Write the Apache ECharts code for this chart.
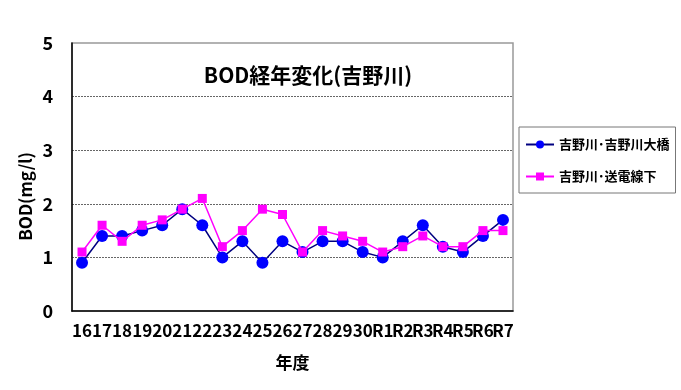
<!DOCTYPE html>
<html><head><meta charset="utf-8">
<script src="https://cdn.jsdelivr.net/npm/echarts@6/dist/echarts.min.js"></script>
<style>html,body{margin:0;padding:0;background:#fff}#c{width:681px;height:390px}</style>
</head><body><div id="c"></div>
<script>
const categories = ['16','17','18','19','20','21','22','23','24','25','26','27','28','29','30','R1','R2','R3','R4','R5','R6','R7'];
const seriesNames = ['吉野川･吉野川大橋','吉野川･送電線下'];
const ohashi = [0.9,1.4,1.4,1.5,1.6,1.9,1.6,1.0,1.3,0.9,1.3,1.1,1.3,1.3,1.1,1.0,1.3,1.6,1.2,1.1,1.4,1.7];
const sodensen = [1.1,1.6,1.3,1.6,1.7,1.9,2.1,1.2,1.5,1.9,1.8,1.1,1.5,1.4,1.3,1.1,1.2,1.4,1.2,1.2,1.5,1.5];
const yTicks = [0,1,2,3,4,5];
const titleText = 'BOD経年変化(吉野川)';
const yName = 'BOD(mg/l)';
const xName = '年度';

const FONT = '"Noto Sans CJK JP", "Noto Sans", sans-serif';
const chart = echarts.init(document.getElementById('c'), null, {renderer:'canvas'});
chart.setOption({
  animation:false,
  backgroundColor:'#fff',
  title:{text:titleText,left:303,top:60,textAlign:'center',textStyle:{fontFamily:FONT,fontWeight:'bold',fontSize:21,color:'#000'}},
  grid:{left:72,top:43,width:441,height:268,show:true,borderColor:'#999',borderWidth:1.5,backgroundColor:'transparent'},
  legend:{
    orient:'vertical',left:519,top:127,width:135,
    padding:[11,6,10,6],itemGap:19,itemWidth:28,itemHeight:10,
    borderColor:'#777',borderWidth:1,
    textStyle:{fontFamily:FONT,fontWeight:'bold',fontSize:13,color:'#000'},
    data:seriesNames
  },
  xAxis:{
    type:'category',data:categories,boundaryGap:true,
    name:xName,nameLocation:'middle',nameGap:43,
    nameTextStyle:{fontFamily:FONT,fontWeight:'bold',fontSize:17,color:'#000'},
    axisLine:{lineStyle:{color:'#000',width:1.5}},
    axisTick:{inside:true,length:4,lineStyle:{color:'#000'}},
    axisLabel:{interval:0,margin:11,fontFamily:FONT,fontWeight:'bold',fontSize:17,color:'#000'}
  },
  yAxis:{
    type:'value',min:0,max:5,interval:1,
    axisLine:{show:true,lineStyle:{color:'#000',width:1.5}},
    axisTick:{show:false},
    axisLabel:{margin:19,fontFamily:FONT,fontWeight:'bold',fontSize:18,color:'#000',
      formatter:v=>yTicks.includes(v)?String(v):''},
    splitLine:{show:true,showMinLine:false,showMaxLine:false,lineStyle:{color:'#666',type:[2,1],width:1}}
  },
  graphic:[{type:'text',left:17,top:152,rotation:Math.PI/2,
    style:{text:yName,font:'bold 17px '+FONT,fill:'#000'}}],
  series:[
    {name:seriesNames[0],type:'line',data:ohashi,symbol:'circle',symbolSize:12,
      lineStyle:{color:'#000080',width:1.5},itemStyle:{color:'#0000FF'},z:3},
    {name:seriesNames[1],type:'line',data:sodensen,symbol:'rect',symbolSize:9,
      lineStyle:{color:'#FF00FF',width:1.5},itemStyle:{color:'#FF00FF'},z:4}
  ]
});
</script></body></html>
